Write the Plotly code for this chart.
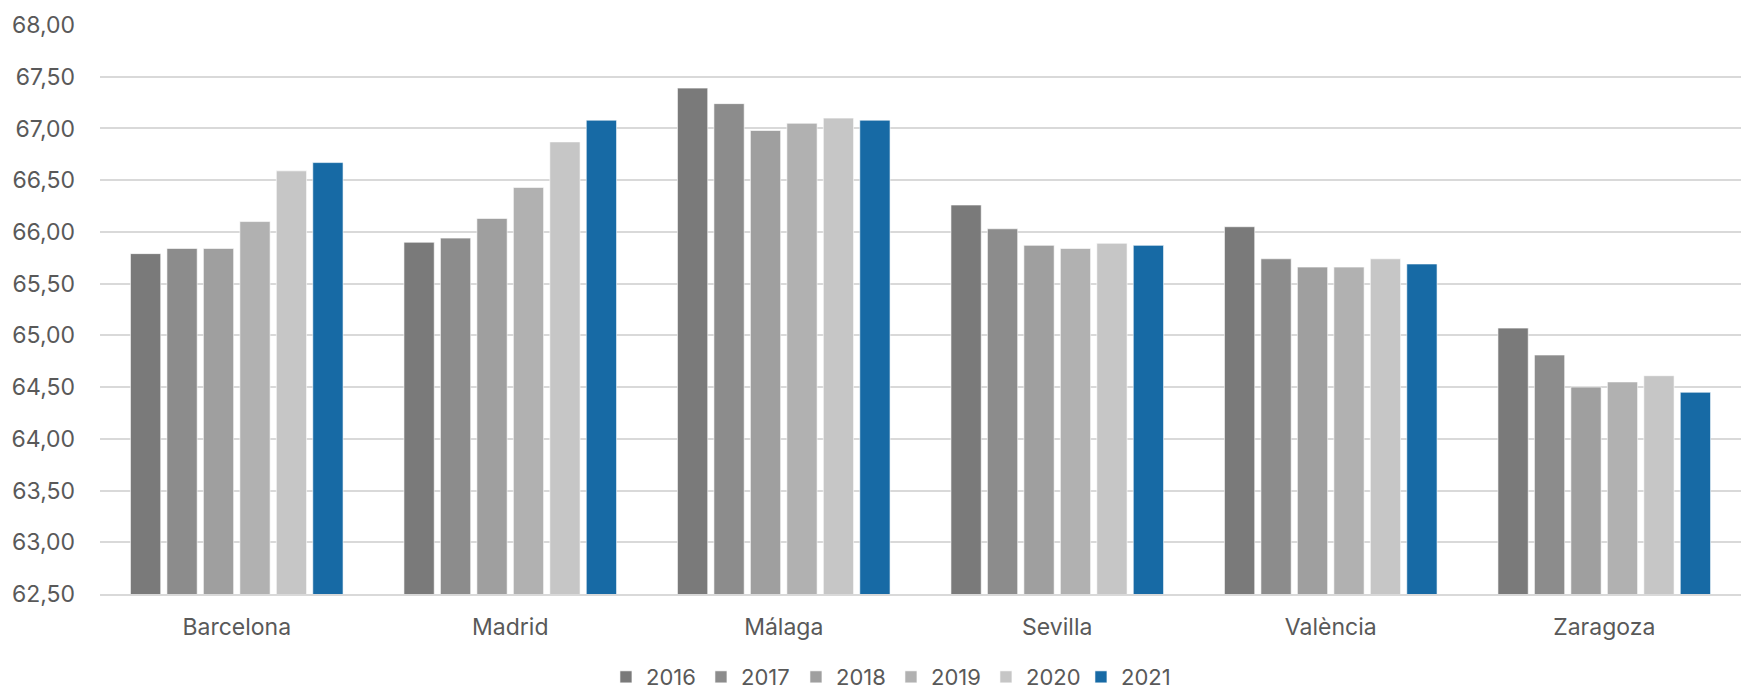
import plotly.graph_objects as go

CITIES = ["Barcelona", "Madrid", "Málaga", "Sevilla", "València", "Zaragoza"]
YEARS = ["2016", "2017", "2018", "2019", "2020", "2021"]

V_2016 = [65.79, 65.90, 67.39, 66.26, 66.05, 65.07]
V_2017 = [65.84, 65.94, 67.24, 66.03, 65.74, 64.81]
V_2018 = [65.84, 66.13, 66.98, 65.87, 65.66, 64.50]
V_2019 = [66.10, 66.43, 67.05, 65.84, 65.66, 64.55]
V_2020 = [66.59, 66.87, 67.10, 65.89, 65.74, 64.61]
V_2021 = [66.67, 67.08, 67.08, 65.87, 65.69, 64.45]

COLORS = ["#7a7a7a", "#8c8c8c", "#9f9f9f", "#b1b1b1", "#c6c6c6", "#176aa5"]

FONT = "Inter, Roboto, Arial, sans-serif"
TEXT_COLOR = "#595959"

series = [V_2016, V_2017, V_2018, V_2019, V_2020, V_2021]

fig = go.Figure()
for year, values, color in zip(YEARS, series, COLORS):
    fig.add_trace(
        go.Bar(
            x=CITIES,
            y=values,
            name=year,
            marker=dict(color=color, line=dict(color="rgba(255,255,255,0.6)", width=1)),
        )
    )

fig.update_xaxes(
    showgrid=False,
    showline=True,
    linecolor="#d9d9d9",
    linewidth=1.5,
    ticks="",
    ticklabelstandoff=12,
    tickfont=dict(family=FONT, size=23, color=TEXT_COLOR),
)
fig.update_yaxes(
    range=[62.5, 68.0],
    dtick=0.5,
    tickformat=".2f",
    showgrid=True,
    gridcolor="#d9d9d9",
    gridwidth=1.5,
    zeroline=False,
    ticks="",
    ticklabelstandoff=24,
    tickfont=dict(family=FONT, size=23, color=TEXT_COLOR),
)
fig.update_layout(
    width=1747,
    height=689,
    separators=",.",
    barmode="group",
    bargap=0.20,
    bargroupgap=0.17,
    plot_bgcolor="white",
    paper_bgcolor="white",
    margin=dict(l=100, r=6, t=25, b=95, autoexpand=False),
    font=dict(family=FONT, color=TEXT_COLOR),
    legend=dict(
        orientation="h",
        x=0.482,
        xanchor="center",
        y=-0.146,
        yanchor="middle",
        font=dict(family=FONT, size=22, color=TEXT_COLOR),
        itemwidth=30,
        entrywidth=50,
        traceorder="normal",
    ),
)

# drop the default page margin so the figure sits flush in the window
fig.write_html(
    "out.html",
    config={"displayModeBar": False},
    post_script="document.body.style.margin='0';",
)
